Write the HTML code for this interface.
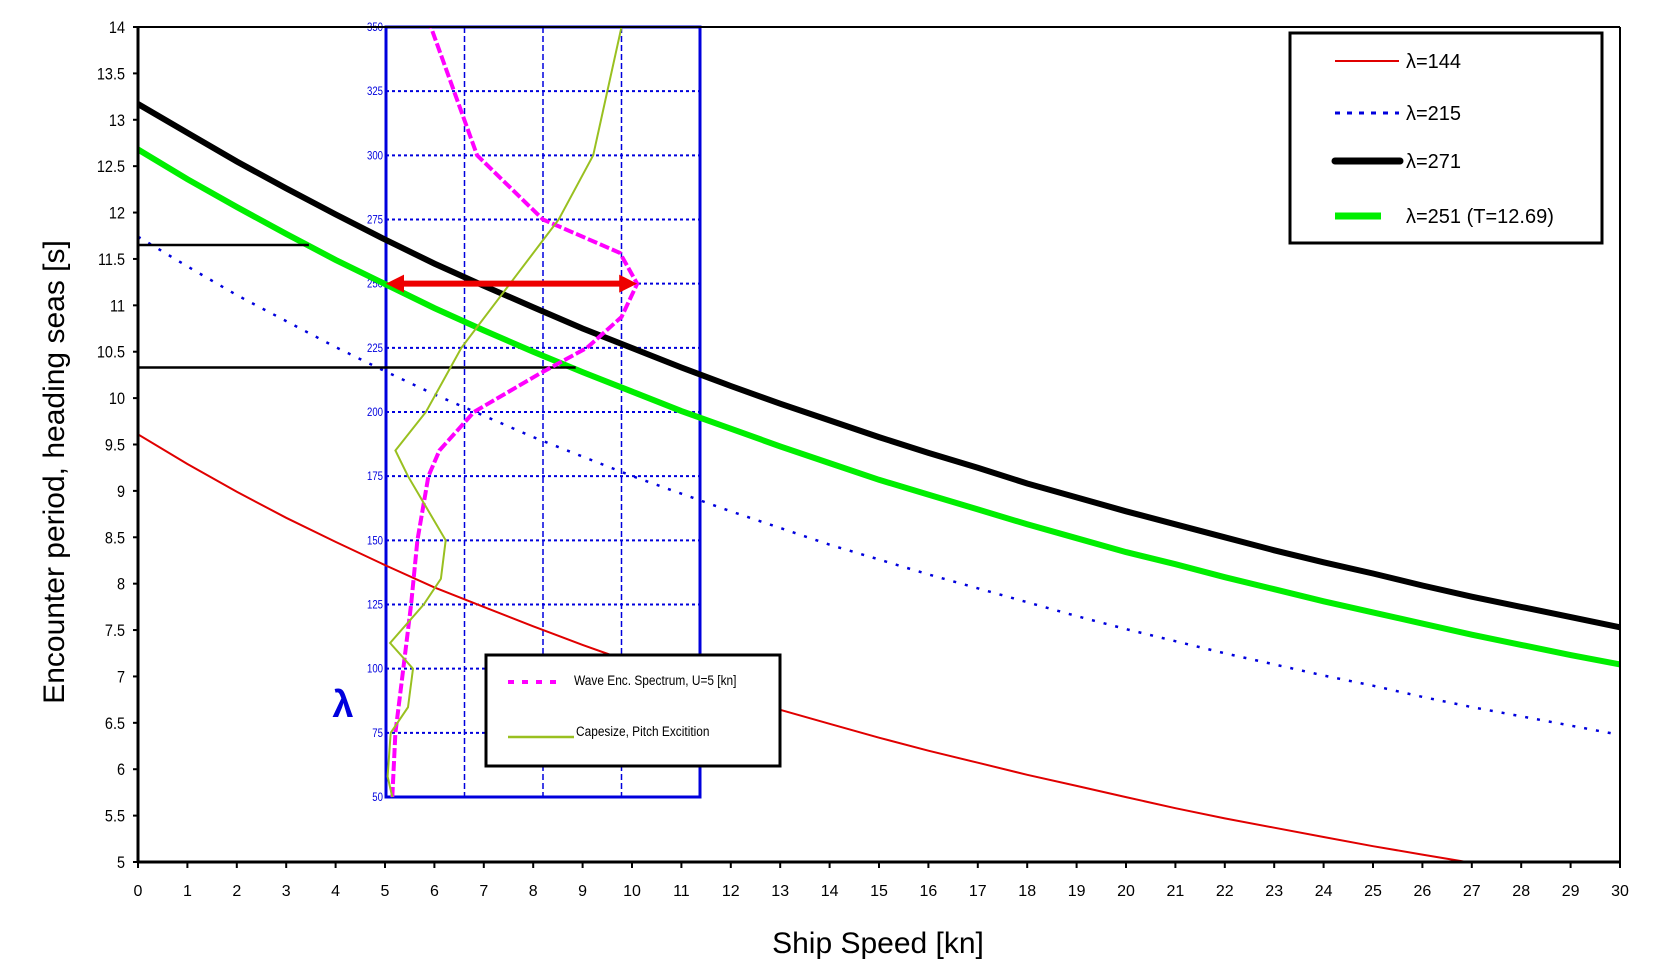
<!DOCTYPE html>
<html><head><meta charset="utf-8"><style>
html,body{margin:0;padding:0;background:#fff;}
svg{display:block;}
text{font-family:"Liberation Sans",sans-serif;}
</style></head><body>
<svg id="chart" width="1667" height="976" viewBox="0 0 1667 976" xmlns="http://www.w3.org/2000/svg">
<rect width="1667" height="976" fill="#fff"/>
<g id="grid"></g>
<g id="series"></g>
<g id="axes"></g>
<text transform="translate(64,472) rotate(-90)" text-anchor="middle" font-size="30">Encounter period, heading seas [s]</text>
<text x="878" y="953" text-anchor="middle" font-size="30">Ship Speed [kn]</text>
<text x="343" y="717" text-anchor="middle" font-size="38" font-weight="bold" fill="#0000dd" font-family="Liberation Serif,serif">λ</text>
<g>
<rect x="1290" y="33" width="312" height="210" fill="#fff" stroke="#000" stroke-width="3"/>
<line x1="1335" y1="61" x2="1399" y2="61" stroke="#e00000" stroke-width="2"/>
<text x="1406" y="68" font-size="20" font-family="Liberation Serif,serif">λ=144</text>
<line x1="1335" y1="113" x2="1399" y2="113" stroke="#0000dd" stroke-width="3" stroke-dasharray="5,7"/>
<text x="1406" y="120" font-size="20" font-family="Liberation Serif,serif">λ=215</text>
<line x1="1335" y1="161" x2="1400" y2="161" stroke="#000" stroke-width="7" stroke-linecap="round"/>
<text x="1406" y="168" font-size="20" font-family="Liberation Serif,serif">λ=271</text>
<line x1="1335" y1="216" x2="1381" y2="216" stroke="#00ee00" stroke-width="7"/>
<text x="1406" y="223" font-size="20" font-family="Liberation Serif,serif">λ=251 (T=12.69)</text>
</g>
<g id="insetlegend">
<rect x="486" y="655" width="294" height="111" fill="#fff" stroke="#000" stroke-width="3"/>
<line x1="508" y1="682" x2="564" y2="682" stroke="#ff00ff" stroke-width="4" stroke-dasharray="6,8"/>
<text x="574" y="685" font-size="14" transform="translate(574,0) scale(0.85,1) translate(-574,0)">Wave Enc. Spectrum, U=5 [kn]</text>
<line x1="508" y1="737" x2="574" y2="737" stroke="#99c020" stroke-width="2.5"/>
<text x="576" y="736" font-size="14" transform="translate(576,0) scale(0.85,1) translate(-576,0)">Capesize, Pitch Excitition</text>
</g>
</svg>
<script>
// main chart data
const speeds = [0,1,2,3,4,5,6,7,8,9,10,11,12,13,14,15,16,17,18,19,20,21,22,23,24,25,26,27,28,29,30];
const tLam144 = [9.61,9.29,8.99,8.71,8.45,8.20,7.96,7.75,7.54,7.34,7.15,6.97,6.81,6.64,6.49,6.34,6.20,6.07,5.94,5.82,5.70,5.58,5.47,5.37,5.27,5.17,5.08,4.99,4.90,4.82,4.74];
const tLam215 = [11.74,11.42,11.11,10.83,10.55,10.29,10.04,9.81,9.58,9.37,9.16,8.97,8.78,8.60,8.42,8.26,8.10,7.95,7.80,7.65,7.51,7.38,7.25,7.13,7.01,6.90,6.78,6.67,6.57,6.47,6.37];
const tLam271 = [13.17,12.86,12.55,12.26,11.98,11.71,11.45,11.21,10.98,10.75,10.54,10.33,10.13,9.94,9.76,9.58,9.41,9.25,9.08,8.93,8.78,8.64,8.50,8.36,8.23,8.11,7.98,7.86,7.75,7.64,7.53];
const tLam251 = [12.68,12.36,12.06,11.77,11.49,11.23,10.97,10.73,10.50,10.28,10.07,9.86,9.67,9.48,9.30,9.12,8.96,8.80,8.64,8.49,8.34,8.21,8.07,7.94,7.81,7.69,7.57,7.45,7.34,7.23,7.13];
const yTicks = [5,5.5,6,6.5,7,7.5,8,8.5,9,9.5,10,10.5,11,11.5,12,12.5,13,13.5,14];
const refLineT = [11.65,10.33];
const refLineEnd = [3.46,8.86];
// inset data (lambda vs relative amplitude 0..1)
const lamTicks = [50,75,100,125,150,175,200,225,250,275,300,325,350];
const specLam = [50,75,100,125,150,175,185,200,215,225,237,250,262,275,300,350];
const specAmp = [0.02,0.03,0.055,0.08,0.10,0.135,0.17,0.28,0.49,0.64,0.75,0.80,0.745,0.5,0.29,0.143];
const pitchLam = [50,58,75,85,100,110,125,135,150,175,185,200,225,250,275,300,350];
const pitchAmp = [0.02,0.005,0.015,0.07,0.086,0.013,0.12,0.175,0.19,0.07,0.03,0.127,0.24,0.395,0.55,0.66,0.75];
const arrowLam = 250;
const arrowAmp = [0,0.80];

const X0=138,X1=1620,Y0=862,Y1=27;
const sx=v=>X0+(v-0)*(X1-X0)/30;
const sy=t=>Y0-(t-5)*(Y0-Y1)/9;
const IX0=386,IX1=700,IY0=797,IY1=27;
const ix=f=>IX0+f*(IX1-IX0);
const iy=l=>IY0-(l-50)*(IY0-IY1)/300;
const NS="http://www.w3.org/2000/svg";
function mk(parent,tag,attrs){const e=document.createElementNS(NS,tag);for(const k in attrs)e.setAttribute(k,attrs[k]);parent.appendChild(e);return e;}
const svgEl=document.getElementById('chart');
const grid=document.getElementById('grid'),ser=document.getElementById('series'),axg=document.getElementById('axes');
const defs=mk(svgEl,'defs',{});
const cp=mk(defs,'clipPath',{id:'plotclip'});mk(cp,'rect',{x:X0,y:Y1,width:X1-X0,height:Y0-Y1});
// move legends on top
svgEl.appendChild(document.getElementById('insetlegend'));

lamTicks.forEach((l,i)=>{
  if(i>0&&i<lamTicks.length-1){const g=mk(grid,'line',{x1:IX0,x2:IX1,y1:iy(l),y2:iy(l),stroke:'#0000dd','stroke-width':2,'stroke-dasharray':'3,3'});
  
  }
  const t=mk(grid,'text',{x:IX0-3,y:iy(l)+4,'text-anchor':'end','font-size':12,fill:'#0000dd',transform:`translate(${IX0-3},0) scale(0.8,1) translate(${-(IX0-3)},0)`});
  t.textContent=l;
  
  
});
[0.25,0.5,0.75].forEach(f=>{const g=mk(grid,'line',{x1:ix(f),x2:ix(f),y1:IY1,y2:IY0,stroke:'#0000dd','stroke-width':1.5,'stroke-dasharray':'6,3'});
  
  });
const ib=mk(grid,'rect',{x:IX0,y:IY1,width:IX1-IX0,height:IY0-IY1,fill:'none',stroke:'#0000dd','stroke-width':3});



function line(xs,ys,fx,fy,style,name){
  const d=xs.map((x,i)=>(i?'L':'M')+fx(x).toFixed(1)+' '+fy(ys[i]).toFixed(1)).join(' ');
  const p=mk(ser,'path',Object.assign({d:d,fill:'none','clip-path':'url(#plotclip)'},style));
  
  
  return p;
}
line(speeds,tLam144,sx,sy,{stroke:'#e00000','stroke-width':2},'line-lambda-144');
line(speeds,tLam215,sx,sy,{stroke:'#0000dd','stroke-width':2.5,'stroke-dasharray':'3,9'},'line-lambda-215');
line(speeds,tLam251,sx,sy,{stroke:'#00ee00','stroke-width':6},'line-lambda-251');
line(speeds,tLam271,sx,sy,{stroke:'#000','stroke-width':6},'line-lambda-271');
refLineT.forEach((t,i)=>{const r=mk(ser,'line',{x1:sx(0),x2:sx(refLineEnd[i]),y1:sy(t),y2:sy(t),stroke:'#000','stroke-width':2.5});
  
  });
line(specAmp,specLam,ix,iy,{stroke:'#ff00ff','stroke-width':4,'stroke-dasharray':'10,3'},'wave-spectrum-line');
line(pitchAmp,pitchLam,ix,iy,{stroke:'#99c020','stroke-width':2},'pitch-excitation-line');
const ay=iy(arrowLam),ax0=ix(arrowAmp[0]),ax1=ix(arrowAmp[1]);
const ar=mk(ser,'g',{});


mk(ar,'line',{x1:ax0+14,x2:ax1-14,y1:ay,y2:ay,stroke:'#ee0000','stroke-width':6});
mk(ar,'path',{d:`M${ax0} ${ay} L${ax0+18} ${ay-9} L${ax0+18} ${ay+9}Z`,fill:'#ee0000'});
mk(ar,'path',{d:`M${ax1} ${ay} L${ax1-18} ${ay-9} L${ax1-18} ${ay+9}Z`,fill:'#ee0000'});

const fr=mk(axg,'g',{});


mk(fr,'line',{x1:X0,x2:X1,y1:Y1,y2:Y1,stroke:'#000','stroke-width':2});
mk(fr,'line',{x1:X1,x2:X1,y1:Y1,y2:Y0,stroke:'#000','stroke-width':2});
mk(fr,'line',{x1:X0,x2:X0,y1:Y1,y2:Y0+1,stroke:'#000','stroke-width':3});
mk(fr,'line',{x1:X0-1,x2:X1+1,y1:Y0,y2:Y0,stroke:'#000','stroke-width':3});
yTicks.forEach(t=>{
  mk(axg,'line',{x1:X0-5,x2:X0,y1:sy(t),y2:sy(t),stroke:'#000','stroke-width':2});
  const tx=mk(axg,'text',{x:125,y:sy(t)+6,'text-anchor':'end','font-size':17,transform:`translate(125,0) scale(0.85,1) translate(-125,0)`});
  tx.textContent=t;
  
  
});
speeds.forEach(v=>{
  mk(axg,'line',{x1:sx(v),x2:sx(v),y1:Y0,y2:Y0+6,stroke:'#000','stroke-width':2});
  const tx=mk(axg,'text',{x:sx(v),y:896,'text-anchor':'middle','font-size':16});
  tx.textContent=v;
  
  
});
</script>
</body></html>
